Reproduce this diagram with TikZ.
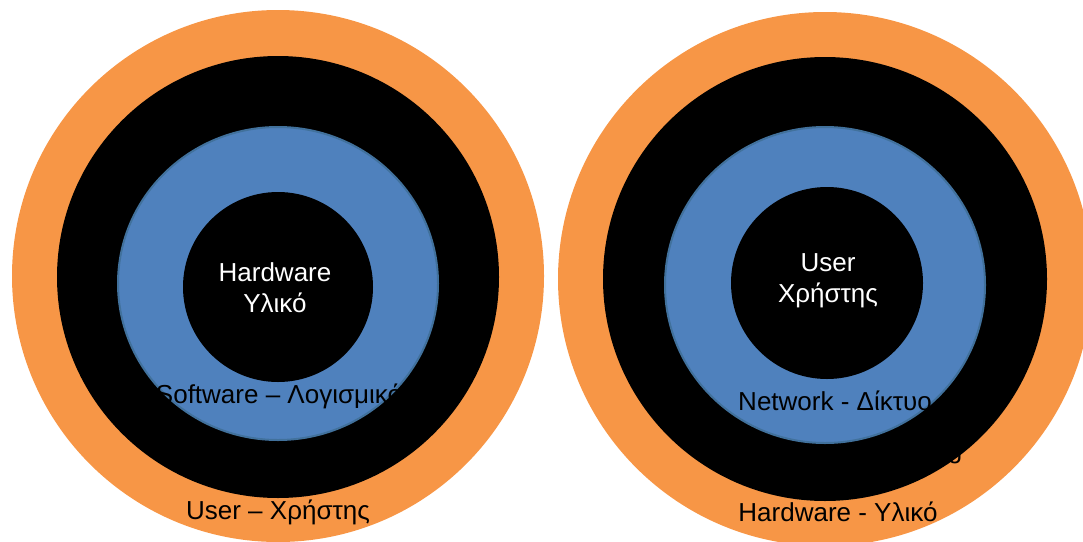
\documentclass[tikz,border=0pt]{standalone}
\usepackage{fontspec}
\setmainfont{Liberation Sans}
\definecolor{ringorange}{HTML}{F79646}
\definecolor{ringblue}{HTML}{4F81BD}
\definecolor{ringedge}{HTML}{41719C}

\begin{document}
\begin{tikzpicture}[x=1pt,y=-1pt,
  lbl/.style={font=\fontsize{26}{31}\selectfont, align=center, inner sep=0pt}]
\useasboundingbox (0,0) rectangle (1083,541);
\begin{scope}[shift={(278,276)}]
\fill[ringorange] (0,0) circle [radius=266];
\fill[black] (0,1) circle [radius=221];
\filldraw[fill=ringblue, draw=ringedge, line width=2] (0,7.5) ellipse [x radius=160, y radius=156.5];
\fill[black] (0,11) circle [radius=95];
\node[lbl, text=white] (hwleft) at (-3,12) {Hardware\\Υλικό};
\node[lbl] (swleft) at (1,120) {Software – Λογισμικό};
\node[lbl] (userleft) at (0,236) {User – Χρήστης};
\end{scope}
\begin{scope}[shift={(825,279)}]
\fill[ringorange] (0,0) circle [radius=267];
\fill[black] (0,0) circle [radius=222];
\filldraw[fill=ringblue, draw=ringedge, line width=2] (0,6) ellipse [x radius=160, y radius=158];
\fill[black] (2,4) circle [radius=96];
\node[lbl, text=white] (userright) at (3,2) {User\\Χρήστης};
\node[lbl] (netright) at (10,122) {Network - Δίκτυο};
\node[lbl] (gright) at (130,175) {g};
\node[lbl] (hwright) at (13,233) {Hardware - Υλικό};
\end{scope}
\end{tikzpicture}
\end{document}
